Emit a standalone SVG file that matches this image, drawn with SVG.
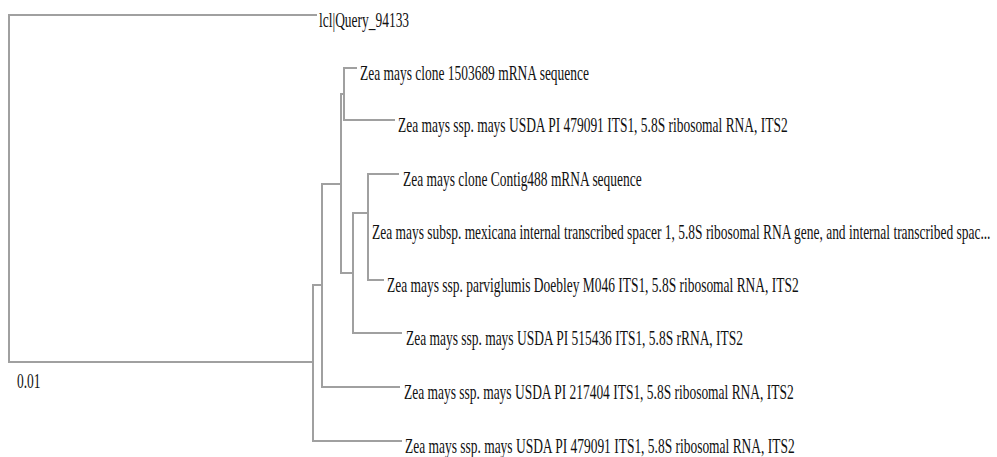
<svg xmlns="http://www.w3.org/2000/svg" width="997" height="457" viewBox="0 0 997 457">
<style>
.e{stroke:#a0a0a0;stroke-width:2;fill:none;stroke-linecap:square}
.t{font-family:"Liberation Serif","Times New Roman",serif;font-size:22px;fill:#111}
</style>
<rect width="997" height="457" fill="#fff"/>
<g id="connectors">
<path class="e" d="M9,15 V362 M9,15 H316"/>
<path class="e" d="M9,362 H313 M313,285 V441 M313,441 H401"/>
<path class="e" d="M313,285 H322 M322,184 V387 M322,387 H399"/>
<path class="e" d="M322,184 H341 M341,94 V273"/>
<path class="e" d="M341,94 H344 M344,68 V120 M344,68 H356 M344,120 H394"/>
<path class="e" d="M341,273 H353 M353,213 V333 M353,333 H401"/>
<path class="e" d="M353,213 H368 M368,174 V280 M368,174 H398 M368,280 H383"/>
</g>
<g id="n-query"><text class="t" transform="translate(319,27) scale(0.612,1)">lcl|Query_94133</text></g>
<g id="n-1503689"><text class="t" transform="translate(360,80) scale(0.612,1)">Zea mays clone 1503689 mRNA sequence</text></g>
<g id="n-479091a"><text class="t" transform="translate(398,132) scale(0.612,1)">Zea mays ssp. mays USDA PI 479091 ITS1, 5.8S ribosomal RNA, ITS2</text></g>
<g id="n-contig488"><text class="t" transform="translate(403,186) scale(0.612,1)">Zea mays clone Contig488 mRNA sequence</text></g>
<g id="n-mexicana"><text class="t" transform="translate(372,239) scale(0.612,1)">Zea mays subsp. mexicana internal transcribed spacer 1, 5.8S ribosomal RNA gene, and internal transcribed spac...</text></g>
<g id="n-parviglumis"><text class="t" transform="translate(387,292) scale(0.612,1)">Zea mays ssp. parviglumis Doebley M046 ITS1, 5.8S ribosomal RNA, ITS2</text></g>
<g id="n-515436"><text class="t" transform="translate(406,345) scale(0.612,1)">Zea mays ssp. mays USDA PI 515436 ITS1, 5.8S rRNA, ITS2</text></g>
<g id="n-217404"><text class="t" transform="translate(404,399) scale(0.612,1)">Zea mays ssp. mays USDA PI 217404 ITS1, 5.8S ribosomal RNA, ITS2</text></g>
<g id="n-479091b"><text class="t" transform="translate(405,453) scale(0.612,1)">Zea mays ssp. mays USDA PI 479091 ITS1, 5.8S ribosomal RNA, ITS2</text></g>
<g id="scale"><text class="t" transform="translate(17,388) scale(0.612,1)">0.01</text></g>
</svg>
